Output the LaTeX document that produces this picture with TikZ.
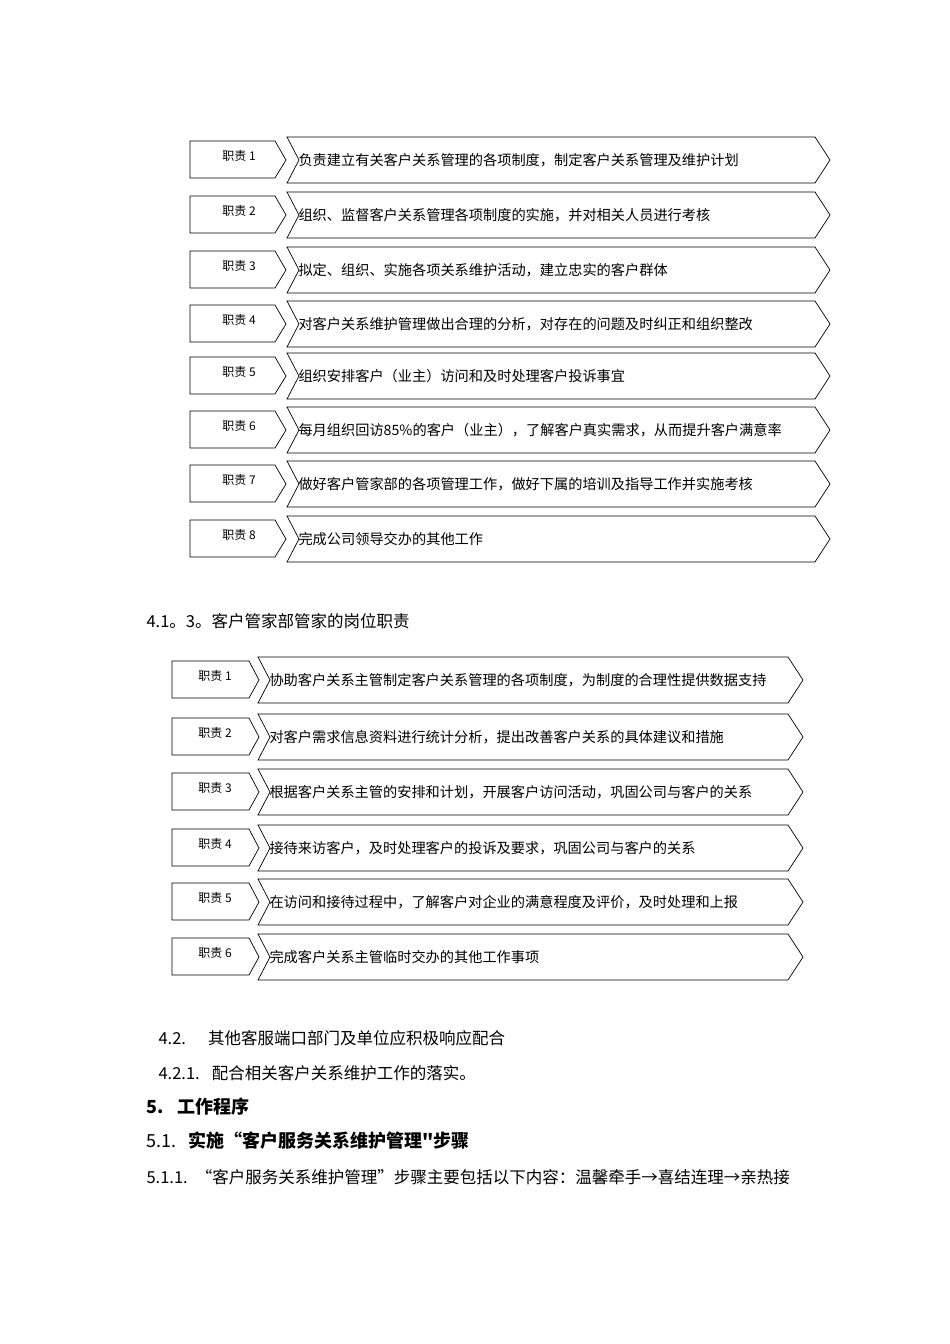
\documentclass[tikz,border=0pt]{standalone}
\usepackage{fontspec}
\setmainfont{Liberation Serif}
\newfontfamily\cjk{Noto Sans CJK SC}
\begin{document}
\begin{tikzpicture}[x=1pt,y=-1pt,
  lab/.style={font=\cjk\fontsize{12}{14}\selectfont,anchor=center},
  txt/.style={font=\cjk\fontsize{14.2}{16}\selectfont,anchor=west},
  para/.style={font=\cjk\fontsize{16.5}{19}\selectfont,anchor=west},
  shp/.style={draw=black,line width=0.7pt,fill=white}]
\path[use as bounding box] (0,0) rectangle (950,1344);
% group 1
\foreach \y/\n/\t in {160/1/负责建立有关客户关系管理的各项制度，制定客户关系管理及维护计划,
215/2/组织、监督客户关系管理各项制度的实施，并对相关人员进行考核,
270/3/拟定、组织、实施各项关系维护活动，建立忠实的客户群体,
324/4/对客户关系维护管理做出合理的分析，对存在的问题及时纠正和组织整改,
376/5/组织安排客户（业主）访问和及时处理客户投诉事宜,
430/6/每月组织回访85\%的客户（业主），了解客户真实需求，从而提升客户满意率,
484/7/做好客户管家部的各项管理工作，做好下属的培训及指导工作并实施考核,
539/8/完成公司领导交办的其他工作}{
  \draw[shp] (190,\y-19) -- (275,\y-19) -- (286,\y) -- (275,\y+18) -- (190,\y+18) -- cycle;
  \node[lab] (a\n) at (239,\y-4) {职责 \n};
  \draw[shp] (287,\y-23) -- (815,\y-23) -- (830,\y) -- (815,\y+23) -- (287,\y+23) -- (299,\y) -- cycle;
  \node[txt] (b\n) at (295,\y) {\t};
}
\node[para] (h1) at (143,621) {4.1。3。客户管家部管家的岗位职责};
\foreach \y/\n/\t in {680/1/协助客户关系主管制定客户关系管理的各项制度，为制度的合理性提供数据支持,
737/2/对客户需求信息资料进行统计分析，提出改善客户关系的具体建议和措施,
792/3/根据客户关系主管的安排和计划，开展客户访问活动，巩固公司与客户的关系,
848/4/接待来访客户，及时处理客户的投诉及要求，巩固公司与客户的关系,
902/5/在访问和接待过程中，了解客户对企业的满意程度及评价，及时处理和上报,
957/6/完成客户关系主管临时交办的其他工作事项}{
  \draw[shp] (172,\y-19) -- (249,\y-19) -- (259,\y) -- (249,\y+18) -- (172,\y+18) -- cycle;
  \node[lab] (c\n) at (215,\y-4) {职责 \n};
  \draw[shp] (258,\y-23) -- (788,\y-23) -- (803,\y) -- (788,\y+23) -- (258,\y+23) -- (270,\y) -- cycle;
  \node[txt] (d\n) at (266,\y) {\t};
}
\node[para] (p1) at (155,1038) {4.2.\hspace{22pt}其他客服端口部门及单位应积极响应配合};
\node[para] (p2) at (155,1073) {4.2.1.\hspace{12pt}配合相关客户关系维护工作的落实。};
\node[para,font=\cjk\bfseries\fontsize{18}{20}\selectfont] (p3) at (143,1107) {5.\hspace{14pt}工作程序};
\node[para,font=\cjk\bfseries\fontsize{18}{20}\selectfont] (p4) at (143,1141) {\textmd{5.1.}\hspace{12pt}实施“客户服务关系维护管理"步骤};
\node[para] (p5) at (143,1177) {5.1.1.\hspace{8pt}“客户服务关系维护管理”步骤主要包括以下内容：温馨牵手→喜结连理→亲热接};
\end{tikzpicture}
\end{document}
